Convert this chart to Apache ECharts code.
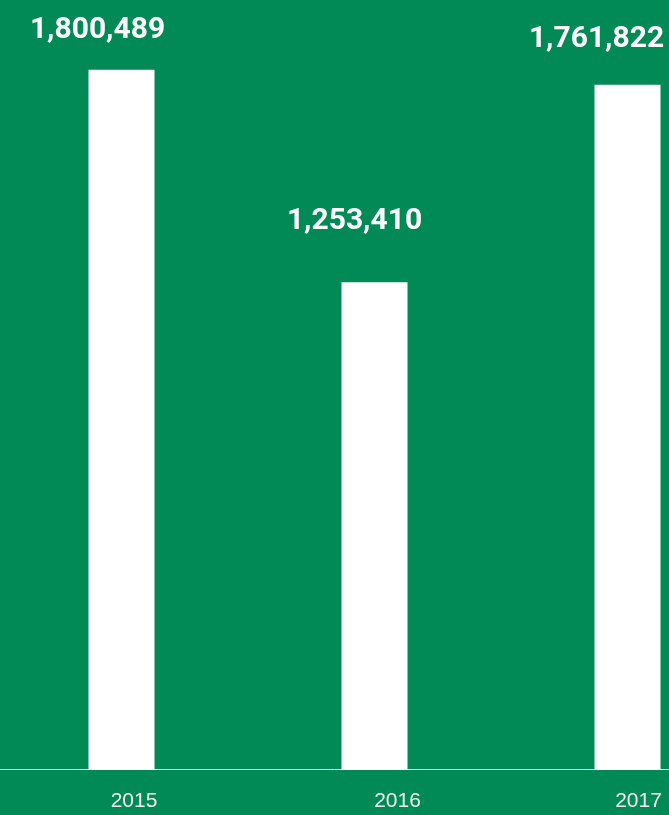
<!DOCTYPE html>
<html><head><meta charset="utf-8">
<style>html,body{margin:0;padding:0;background:#028a56;}#c{width:669px;height:815px;}</style>
<script src="https://cdn.jsdelivr.net/npm/echarts@6/dist/echarts.min.js"></script>
</head><body><div id="c"></div>
<script>
const categories = ['2015', '2016', '2017'];
const values = [1800489, 1253410, 1761822];

const labelStyle = [
  {offset: [-24, 0], distance: 24},
  {offset: [-20, 0], distance: 46},
  {offset: [-31, 0], distance: 30}
];
const catPad = {'2015': 25, '2016': 46, '2017': 22};

const rich = {};
categories.forEach(c => {
  rich['c' + c] = {color: '#eef6f1', fontSize: 21, fontFamily: 'Liberation Sans, Arial, sans-serif', padding: [0, 0, 0, catPad[c]]};
});

const chart = echarts.init(document.getElementById('c'), null, {renderer: 'canvas'});
chart.setOption({
  backgroundColor: '#028a56',
  animation: false,
  grid: {left: -5, right: -85, top: 31, bottom: 46, containLabel: false, outerBoundsMode: 'none'},
  xAxis: {
    type: 'category',
    data: categories,
    axisLine: {show: true, lineStyle: {color: '#ffffff', width: 1}},
    axisTick: {show: false},
    axisLabel: {margin: 22, formatter: v => '{c' + v + '|' + v + '}', rich: rich}
  },
  yAxis: {
    type: 'value', min: 0, max: 1900000,
    show: false, splitLine: {show: false}
  },
  series: [{
    type: 'bar',
    barWidth: 66,
    z: 1,
    itemStyle: {color: '#ffffff'},
    data: values.map((v, i) => ({
      value: v,
      label: {
        show: true, position: 'top',
        offset: labelStyle[i].offset, distance: labelStyle[i].distance,
        color: '#ffffff', fontSize: 30, fontWeight: 'bold',
        fontFamily: 'Roboto, sans-serif',
        formatter: p => p.value.toLocaleString('en-US')
      }
    }))
  }]
});
</script></body></html>
